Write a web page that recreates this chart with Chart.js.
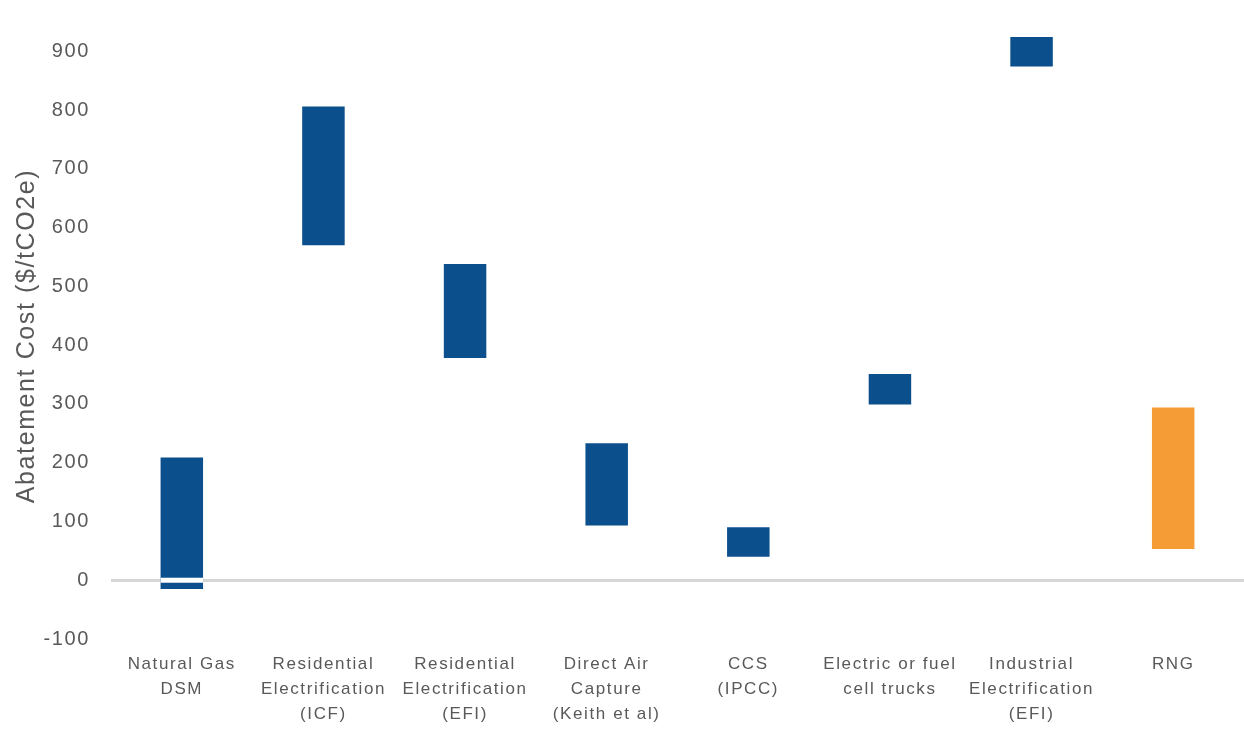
<!DOCTYPE html>
<html>
<head>
<meta charset="utf-8">
<title>Abatement Cost</title>
<script src="https://cdn.jsdelivr.net/npm/chart.js@4.4.1/dist/chart.umd.min.js"></script>
<style>
    html, body { margin: 0; padding: 0; background: #ffffff; }
    #wrap { width: 1244px; height: 730px; }
</style>
</head>
<body>
<div id="wrap"><canvas id="costChart" width="1244" height="730"></canvas></div>
<script>
// Categories (multi-line labels)
const categories = [
    ['Natural Gas', 'DSM'],
    ['Residential', 'Electrification', '(ICF)'],
    ['Residential', 'Electrification', '(EFI)'],
    ['Direct Air', 'Capture', '(Keith et al)'],
    ['CCS', '(IPCC)'],
    ['Electric or fuel', 'cell trucks'],
    ['Industrial', 'Electrification', '(EFI)'],
    ['RNG']
];

// Range of abatement cost, $/tCO2e
const lowValues = [-15, 570, 378, 93, 40, 299, 874, 53];
const highValues = [209, 806, 538, 233, 90, 351, 924, 294];

// Y axis ticks
const yTicks = [-100, 0, 100, 200, 300, 400, 500, 600, 700, 800, 900];

const BLUE = '#0b4f8c';
const ORANGE = '#f59c36';
const TEXT = '#595959';

const rangeData = categories.map((c, i) => [lowValues[i], highValues[i]]);

// Spaced-out text like the original, and a white cut where the zero line crosses a bar
const spacingPlugin = {
    id: 'spacing',
    beforeDraw(chart) {
        chart.ctx.letterSpacing = '1.6px';
    }
};

const zeroCutPlugin = {
    id: 'zeroCut',
    afterDatasetsDraw(chart) {
        const ctx = chart.ctx;
        const y0 = chart.scales.y.getPixelForValue(0);
        const meta = chart.getDatasetMeta(0);
        ctx.save();
        ctx.fillStyle = '#ffffff';
        meta.data.forEach(bar => {
            const top = Math.min(bar.y, bar.base);
            const bottom = Math.max(bar.y, bar.base);
            if (top < y0 && bottom > y0) {
                ctx.fillRect(bar.x - bar.width / 2, y0 - 2.5, bar.width, 5);
            }
        });
        ctx.restore();
    }
};

const ctx = document.getElementById('costChart').getContext('2d');

new Chart(ctx, {
    type: 'bar',
    data: {
        labels: categories,
        datasets: [{
            data: rangeData,
            backgroundColor: c => (c.dataIndex === categories.length - 1 ? ORANGE : BLUE),
            borderWidth: 0,
            categoryPercentage: 1,
            barPercentage: 0.3
        }]
    },
    options: {
        responsive: false,
        animation: false,
        layout: {
            padding: { top: 10, right: 0, bottom: 0, left: 0 }
        },
        plugins: {
            legend: { display: false },
            tooltip: { enabled: false }
        },
        scales: {
            x: {
                grid: { display: false },
                border: { display: false },
                ticks: {
                    color: TEXT,
                    font: { family: 'Liberation Sans, Arial, sans-serif', size: 17, lineHeight: 1.47 },
                    padding: 5,
                    maxRotation: 0,
                    autoSkip: false
                },
                afterFit(scale) {
                    scale.height = 91;
                }
            },
            y: {
                min: -100,
                max: 931,
                border: { display: false },
                grid: {
                    drawTicks: false,
                    lineWidth: 3,
                    color: c => (c.tick && c.tick.value === 0 ? '#d6d6d6' : 'rgba(0,0,0,0)')
                },
                ticks: {
                    stepSize: 100,
                    color: TEXT,
                    padding: 21,
                    font: { family: 'Liberation Sans, Arial, sans-serif', size: 20 }
                },
                afterBuildTicks(scale) {
                    scale.ticks = yTicks.map(v => ({ value: v }));
                },
                title: {
                    display: true,
                    text: 'Abatement Cost ($/tCO2e)',
                    color: TEXT,
                    font: { family: 'Liberation Sans, Arial, sans-serif', size: 25 },
                    padding: { top: 12, bottom: 0 }
                },
                afterFit(scale) {
                    scale.width = 111;
                }
            }
        }
    },
    plugins: [spacingPlugin, zeroCutPlugin]
});
</script>
</body>
</html>
